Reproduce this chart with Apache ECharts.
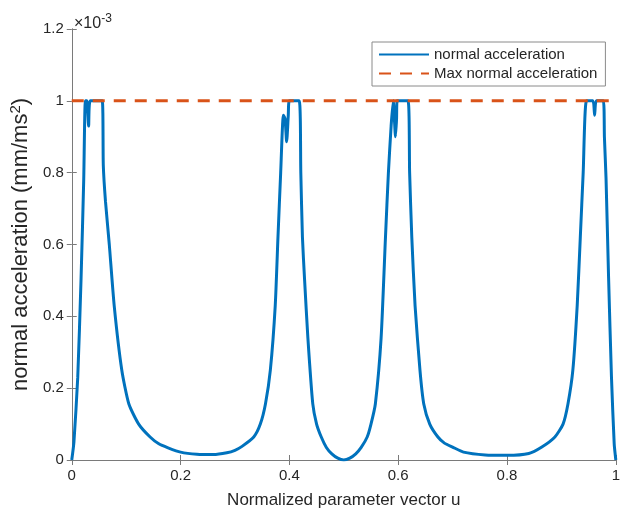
<!DOCTYPE html>
<html>
<head>
<meta charset="utf-8">
<script src="https://cdn.jsdelivr.net/npm/echarts@6/dist/echarts.min.js"></script>
<style>html,body{margin:0;padding:0;background:#fff;overflow:hidden;}#c{width:623px;height:514px;}</style>
</head>
<body>
<div id="c"></div>
<script>
// normalized parameter u
var uValues = [0, 0.004, 0.011, 0.017, 0.022, 0.025, 0.028, 0.031, 0.034, 0.056, 0.058, 0.062, 0.069, 0.078, 0.092, 0.105, 0.123, 0.144, 0.16, 0.177, 0.2, 0.23, 0.26, 0.285, 0.3, 0.313, 0.3345, 0.3466, 0.356, 0.365, 0.374, 0.379, 0.384, 0.389, 0.392, 0.395, 0.398, 0.4, 0.418, 0.421, 0.424, 0.428, 0.434, 0.443, 0.45, 0.4586, 0.468, 0.478, 0.489, 0.5, 0.511, 0.522, 0.532, 0.543, 0.55, 0.558, 0.5686, 0.5766, 0.582, 0.587, 0.591, 0.593, 0.595, 0.597, 0.598, 0.618, 0.621, 0.625, 0.631, 0.64, 0.647, 0.658, 0.673, 0.685, 0.7, 0.72, 0.76, 0.8, 0.84, 0.864, 0.888, 0.903, 0.912, 0.921, 0.929, 0.9347, 0.94, 0.946, 0.958, 0.961, 0.964, 0.977, 0.979, 0.982, 0.9867, 0.992, 0.997, 1];
// normal acceleration (x 10^-3 mm/ms^2)
var accValues = [0, 0.05, 0.23, 0.5, 0.78, 1.0, 1.0, 0.93, 1.0, 1.0, 0.82, 0.72, 0.6, 0.43, 0.25, 0.156, 0.1, 0.064, 0.045, 0.034, 0.022, 0.016, 0.015, 0.02, 0.027, 0.038, 0.064, 0.1, 0.156, 0.25, 0.43, 0.62, 0.8, 0.96, 0.95, 0.886, 0.96, 1.0, 1.0, 0.8, 0.62, 0.5, 0.34, 0.156, 0.1, 0.064, 0.035, 0.017, 0.005, 0, 0.005, 0.017, 0.035, 0.064, 0.1, 0.156, 0.34, 0.62, 0.8, 0.93, 1.0, 0.95, 0.9, 0.95, 1.0, 1.0, 0.8, 0.62, 0.43, 0.25, 0.156, 0.1, 0.064, 0.047, 0.036, 0.022, 0.014, 0.013, 0.018, 0.036, 0.064, 0.1, 0.156, 0.25, 0.43, 0.62, 0.8, 1.0, 1.0, 0.96, 1.0, 1.0, 0.9, 0.784, 0.507, 0.23, 0.045, 0];
var maxU = [0, 1];
var maxAcc = [1, 1];
var xTicks = ['0', '0.2', '0.4', '0.6', '0.8', '1'];
var yTicks = ['0', '0.2', '0.4', '0.6', '0.8', '1', '1.2'];
var seriesNames = ['normal acceleration', 'Max normal acceleration'];

var FONT = 'Liberation Sans, Arial, Helvetica, sans-serif';
var TXT = '#262626';
var AX = '#7a7a7a';

function pairs(xs, ys) { return xs.map(function (x, i) { return [x, ys[i]]; }); }

var chart = echarts.init(document.getElementById('c'), null, {renderer: 'canvas', width: 623, height: 514});
var axisCommon = {
  type: 'value',
  axisLine: {show: true, lineStyle: {color: AX, width: 1}},
  axisTick: {show: true, inside: true, length: 5, lineStyle: {color: AX}},
  splitLine: {show: false}
};
chart.setOption({
  animation: false,
  backgroundColor: '#fff',
  textStyle: {fontFamily: FONT},
  title: {
    text: '×10{s|-3}',
    left: 69, top: 8,
    textStyle: {
      fontFamily: FONT, fontSize: 16, fontWeight: 'normal', color: TXT,
      rich: {s: {fontFamily: FONT, fontSize: 12, color: TXT, verticalAlign: 'top', padding: [0, 0, 10, 0]}}
    }
  },
  grid: {left: 69, right: 3, top: 29, bottom: 51, containLabel: false},
  legend: {
    orient: 'vertical', left: 372, top: 42,
    itemWidth: 50, itemHeight: 12, itemGap: 4,
    padding: [5, 8, 5, 6],
    backgroundColor: '#fff', borderColor: '#8a8a8a', borderWidth: 1,
    itemStyle: {opacity: 0},
    textStyle: {fontFamily: FONT, fontSize: 15, color: TXT},
    data: seriesNames
  },
  xAxis: [
    Object.assign({}, axisCommon, {
      position: 'bottom', min: 0, max: 1, interval: 0.2,
      axisLabel: {color: TXT, fontSize: 15, fontFamily: FONT, margin: 8,
        formatter: function (v) { return xTicks[Math.round(v / 0.2)]; }},
      name: 'Normalized parameter vector u', nameLocation: 'middle', nameGap: 32,
      nameTextStyle: {color: TXT, fontSize: 17, fontFamily: FONT}
    }),
    Object.assign({}, axisCommon, {
      position: 'top', min: 0, max: 1, interval: 0.2, axisLabel: {show: false}
    })
  ],
  yAxis: [
    Object.assign({}, axisCommon, {
      position: 'left', min: 0, max: 1.2, interval: 0.2,
      axisLabel: {color: TXT, fontSize: 15, fontFamily: FONT, margin: 8,
        formatter: function (v) { return yTicks[Math.round(v / 0.2)]; }},
      name: 'normal acceleration (mm/ms{s|2})', nameLocation: 'middle', nameGap: 37, nameRotate: 90,
      nameTextStyle: {color: TXT, fontSize: 22, fontFamily: FONT,
        rich: {s: {fontSize: 15, fontFamily: FONT, color: TXT, verticalAlign: 'top', padding: [0, 0, 11, 0]}}}
    }),
    Object.assign({}, axisCommon, {
      position: 'right', min: 0, max: 1.2, interval: 0.2, axisLabel: {show: false}
    })
  ],
  series: [
    {
      name: seriesNames[0], type: 'line', xAxisIndex: 0, yAxisIndex: 0,
      data: pairs(uValues, accValues),
      showSymbol: false, symbol: 'none', smooth: 0.2,
      lineStyle: {color: '#0072BD', width: 3}, itemStyle: {color: '#0072BD'}, z: 2
    },
    {
      name: seriesNames[1], type: 'line', xAxisIndex: 0, yAxisIndex: 0,
      data: pairs(maxU, maxAcc),
      showSymbol: false, symbol: 'none',
      lineStyle: {color: '#D95319', width: 3, type: [12, 9]}, itemStyle: {color: '#D95319'}, z: 3
    }
  ]
});
</script>
</body>
</html>
